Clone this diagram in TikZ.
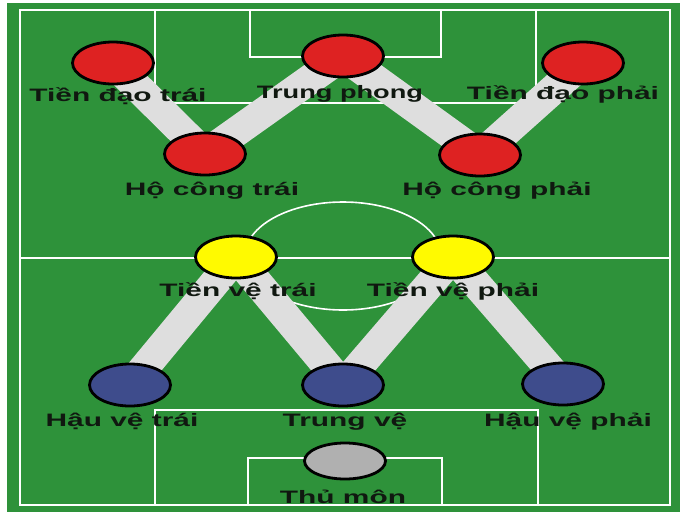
\documentclass[tikz,border=0pt]{standalone}
\usepackage{fontspec}
\setmainfont{Liberation Sans}
\usetikzlibrary{shapes.geometric}
\pgfdeclarelayer{pitch}
\pgfdeclarelayer{bands}
\pgfsetlayers{pitch,bands,main}
\definecolor{grass}{RGB}{46,146,58}
\definecolor{band}{RGB}{222,222,222}
\definecolor{attack}{RGB}{222,34,34}
\definecolor{midfield}{RGB}{255,250,0}
\definecolor{defence}{RGB}{62,76,140}
\definecolor{keeper}{RGB}{176,176,176}
\definecolor{ink}{RGB}{16,24,16}
\tikzset{
  player/.style={ellipse,draw=black,line width=2.8pt,minimum width=81pt,minimum height=42pt,inner sep=0pt},
  lbl/.style={text=ink,font=\bfseries\fontsize{18}{18}\selectfont,xscale=1.66,inner sep=0pt,anchor=base},
  link/.style={draw=band,line width=30pt},
  chalk/.style={draw=white,line width=1.6pt}
}
\begin{document}
\begin{tikzpicture}[x=1pt,y=-1pt]
  \useasboundingbox (0,0) rectangle (686,515);
  \draw
    (113,63) node[player,fill=attack] (tdt){}
    (343,56) node[player,fill=attack] (tp){}
    (583,63) node[player,fill=attack] (tdp){}
    (205,154) node[player,fill=attack] (hct){}
    (480,155) node[player,fill=attack] (hcp){}
    (236,257) node[player,fill=midfield] (tvt){}
    (453,257) node[player,fill=midfield] (tvp){}
    (130,385) node[player,fill=defence] (hvt){}
    (343,385) node[player,fill=defence] (tv){}
    (563,384) node[player,fill=defence] (hvp){}
    (345,461) node[player,fill=keeper,minimum height=36pt] (tm){};
  \draw
    (118,101) node[lbl] (tdt-l){Tiền đạo trái}
    (340,98) node[lbl,xscale=0.91] (tp-l){Trung phong}
    (563,99) node[lbl] (tdp-l){Tiền đạo phải}
    (212,195) node[lbl] (hct-l){Hộ công trái}
    (497,195) node[lbl] (hcp-l){Hộ công phải}
    (238,296) node[lbl] (tvt-l){Tiền vệ trái}
    (453,296) node[lbl] (tvp-l){Tiền vệ phải}
    (122,426) node[lbl] (hvt-l){Hậu vệ trái}
    (345,426) node[lbl] (tv-l){Trung vệ}
    (568,426) node[lbl] (hvp-l){Hậu vệ phải}
    (343,503) node[lbl] (tm-l){Thủ môn};
  \begin{pgfonlayer}{bands}
    \draw[link] (tdt.center) to (hct.center);
    \draw[link] (hct.center) to (tp.center);
    \draw[link] (tp.center) to (hcp.center);
    \draw[link] (hcp.center) to (tdp.center);
    \draw[link] (hvt.center) to (tvt.center);
    \draw[link] (tvt.center) to (tv.center);
    \draw[link] (tv.center) to (tvp.center);
    \draw[link] (tvp.center) to (hvp.center);
  \end{pgfonlayer}
  \begin{pgfonlayer}{pitch}
    \fill[white] (0,0) rectangle (686,515);
    \fill[grass] (7,3) rectangle (680,512);
    \draw[chalk] (20,10) rectangle (670,505);
    \draw[chalk] (155,10) |- (536,103) -- (536,10);
    \draw[chalk] (250,10) |- (441,57) -- (441,10);
    \draw[chalk] (155,505) |- (538,410) -- (538,505);
    \draw[chalk] (248,505) |- (442,458) -- (442,505);
    \draw[chalk] (20,258) -- (670,258);
    \draw[chalk] (343,256) ellipse [x radius=98,y radius=54];
  \end{pgfonlayer}
\end{tikzpicture}
\end{document}
